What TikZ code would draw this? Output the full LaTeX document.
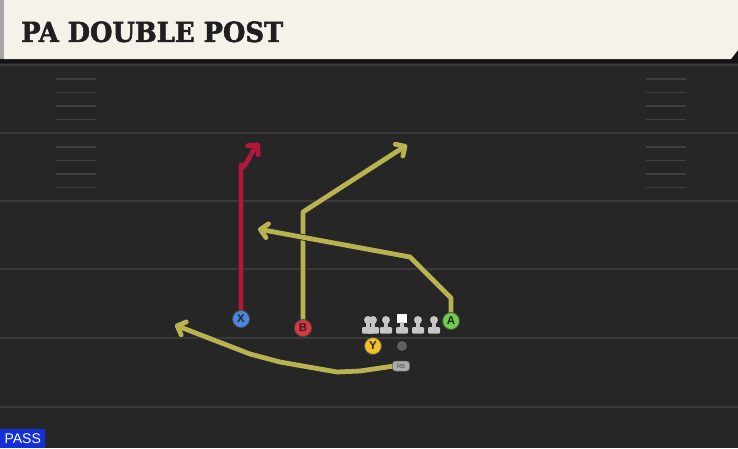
\documentclass[tikz,border=0pt]{standalone}
\usepackage{fontspec}
\usepackage{graphicx}
\usetikzlibrary{arrows.meta}
\newfontfamily\titlefont[FakeBold=2]{DejaVu Serif}
\newfontfamily\uisans{Liberation Sans}
\definecolor{field}{HTML}{262626}
\definecolor{yardln}{HTML}{3A3A3A}
\definecolor{hashc}{HTML}{3E3E3E}
\definecolor{cream}{HTML}{F5F2EA}
\definecolor{olive}{HTML}{B8B250}
\definecolor{routered}{HTML}{B0183A}
\definecolor{pblue}{HTML}{4A86DE}
\definecolor{pred}{HTML}{E2343F}
\definecolor{pgreen}{HTML}{6CCF45}
\definecolor{pyellow}{HTML}{F2C224}
\definecolor{lineman}{HTML}{C6C6C6}
\definecolor{passblue}{HTML}{1330D8}
\tikzset{
  yard/.style={draw=yardln, line width=2.2pt},
  hashmark/.style={draw=hashc, line width=1.6pt},
  routeout/.style={draw=black!85, line width=6.4pt, line join=round, -{Straight Barb[length=7pt,width=14pt,round]}},
  routein/.style={line width=4.8pt, line join=round, -{Straight Barb[length=7pt,width=14pt,round]}},
  player/.style={circle, minimum size=17pt, inner sep=0pt, draw=black!70, line width=0.8pt,
     font=\uisans\bfseries\fontsize{11.5}{11.5}\selectfont, text=black!85},
}
\newcommand{\olman}[2]{%
  \fill[lineman] (#1,#2) circle (4);
  \fill[lineman] (#1-1.8,#2) rectangle (#1+1.8,#2+8);
  \fill[lineman, rounded corners=1pt] (#1-6,#2+7) rectangle (#1+6,#2+13.5);
}
\begin{document}
\begin{tikzpicture}[x=1pt,y=-1pt]
\useasboundingbox (0,0) rectangle (738,448);
% field
\fill[field] (0,0) rectangle (738,448);
% yard lines
\foreach \yy in {65,133,201,269,338,407} {
  \draw[yard] (0,\yy) -- (738,\yy);
}
% hash marks
\foreach \base in {65,133} {
  \foreach \off in {14,27.5,41,54.5} {
    \draw[hashmark] (56,\base+\off) -- (96,\base+\off);
    \draw[hashmark] (646,\base+\off) -- (686,\base+\off);
  }
}
% header
\fill[black!92] (0,0) rectangle (738,63);
\fill[cream] (4,0) -- (738,0) -- (738,50) -- (731,59) -- (4,59) -- cycle;
\fill[gray!70] (0,0) rectangle (4,59);
\node[anchor=south west, inner sep=0pt, text=black!88] (title) at (21,42.5)
  {\resizebox{262pt}{20.5pt}{\titlefont\bfseries PA DOUBLE POST}};
% coordinates
\coordinate (xs) at (241,312);
\coordinate (xb) at (241,165);
\coordinate (xe) at (259,143);
\coordinate (bs) at (303,320);
\coordinate (bb) at (303,212);
\coordinate (be) at (407,145);
\coordinate (as) at (451,313);
\coordinate (ab) at (451,298);
\coordinate (am) at (410,257);
\coordinate (ae) at (258,229);
\coordinate (rs) at (394,366);
\coordinate (r1) at (360,371);
\coordinate (r2) at (337,372);
\coordinate (r3) at (280,362);
\coordinate (r4) at (250,354);
\coordinate (re) at (175,325);
% routes
\draw[routeout] (xs) -- (xb) to[out=-90,in=-130] (xe);
\draw[routein, routered] (xs) -- (xb) to[out=-90,in=-130] (xe);
\draw[routeout] (bs) -- (bb) -- (be);
\draw[routein, olive] (bs) -- (bb) -- (be);
\draw[routeout] (as) -- (ab) -- (am) -- (ae);
\draw[routein, olive] (as) -- (ab) -- (am) -- (ae);
\draw[routeout] (rs) -- (r1) -- (r2) -- (r3) -- (r4) -- (re);
\draw[routein, olive] (rs) -- (r1) -- (r2) -- (r3) -- (r4) -- (re);
% offensive line
\olman{368}{320}
\olman{373}{320}
\olman{386}{320}
\fill[white] (397,313.5) rectangle (407,322.5);
\fill[lineman] (400.2,322) rectangle (403.8,328);
\fill[lineman, rounded corners=1pt] (396,327) rectangle (408,333.5);
\olman{418}{320}
\olman{434}{320}
% players
\node[player, fill=pblue] (X) at (241,319) {X};
\node[player, fill=pred] (B) at (303,328) {B};
\node[player, fill=pgreen] (A) at (451,321) {A};
\node[player, fill=pyellow] (Y) at (373,346) {Y};
\node[circle, fill=gray!75!black, minimum size=10pt, inner sep=0pt] (qb) at (402,346) {};
\node[fill=gray!65, draw=black!60, line width=0.5pt, rounded corners=3pt, minimum width=17pt, minimum height=10pt, inner sep=0pt,
  font=\uisans\fontsize{6}{6}\selectfont, text=black!70] (rb) at (401,366) {RB};
% pass label
\node[fill=passblue, anchor=south west, inner xsep=3pt, inner ysep=2pt, minimum height=19pt, minimum width=45pt,
  text=white, font=\uisans\fontsize{14}{14}\selectfont] (pass) at (0,448) {PASS};
\end{tikzpicture}
\end{document}
